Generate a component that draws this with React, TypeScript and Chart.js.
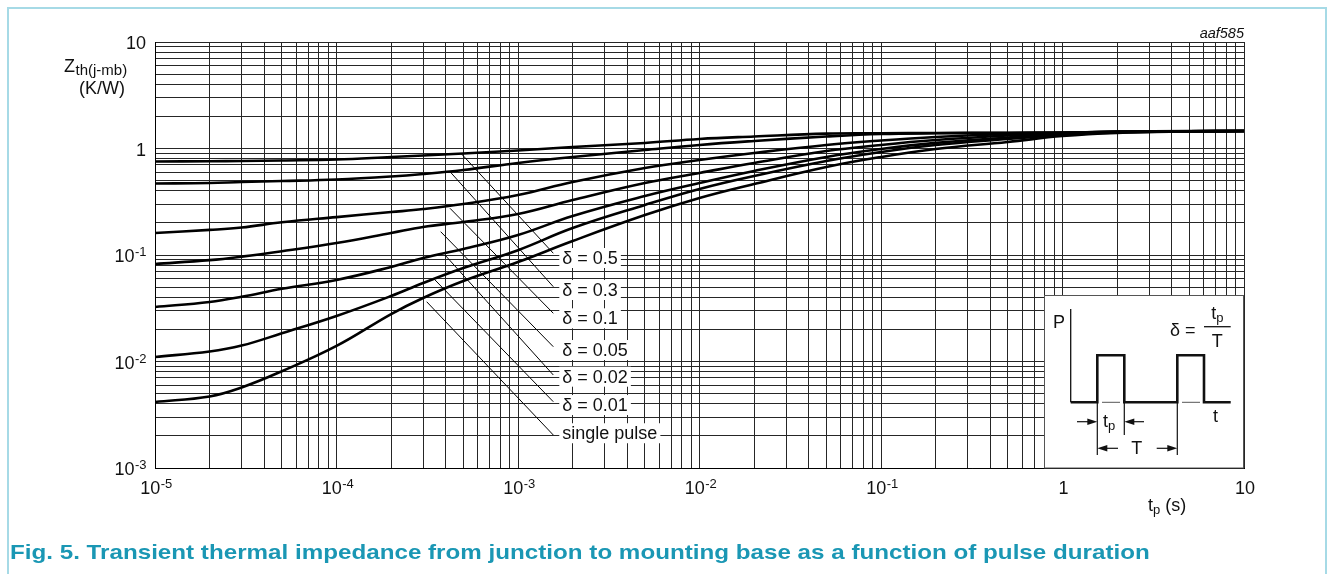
import React, { useEffect, useRef } from "react";
import { Chart, registerables } from "chart.js";

Chart.register(...registerables);

const FF = '"Liberation Sans", Arial, Helvetica, sans-serif';

// pulse duration tp (s)
const TP = [1e-5, 2e-5, 3e-5, 5e-5, 1e-4, 2e-4, 3e-4, 5e-4, 1e-3, 2e-3, 5e-3, 1e-2, 2e-2, 5e-2, 0.1, 0.2, 0.5, 1, 2, 5, 10];

// Zth(j-mb) (K/W) for each duty cycle
const Z_D050 = [0.755, 0.76, 0.763, 0.772, 0.788, 0.832, 0.86, 0.898, 0.958, 1.033, 1.127, 1.228, 1.296, 1.38, 1.39, 1.4, 1.405, 1.413, 1.43, 1.444, 1.46];
const Z_D030 = [0.469, 0.474, 0.485, 0.495, 0.512, 0.546, 0.576, 0.628, 0.731, 0.832, 0.968, 1.08, 1.176, 1.296, 1.369, 1.39, 1.4, 1.41, 1.43, 1.45, 1.46];
const Z_D010 = [0.161, 0.172, 0.181, 0.203, 0.227, 0.253, 0.27, 0.301, 0.366, 0.485, 0.656, 0.78, 0.907, 1.08, 1.189, 1.282, 1.369, 1.4, 1.44, 1.455, 1.46];
const Z_D005 = [0.0823, 0.0895, 0.0965, 0.1085, 0.1297, 0.161, 0.1833, 0.2042, 0.2427, 0.328, 0.474, 0.589, 0.731, 0.947, 1.08, 1.2, 1.325, 1.39, 1.44, 1.45, 1.46];
const Z_D002 = [0.0325, 0.0362, 0.0405, 0.0482, 0.0583, 0.0772, 0.0937, 0.1139, 0.1541, 0.2324, 0.358, 0.474, 0.615, 0.832, 0.989, 1.13, 1.268, 1.369, 1.43, 1.45, 1.46];
const Z_D001 = [0.01102, 0.0124, 0.0141, 0.0184, 0.02675, 0.0412, 0.0546, 0.0755, 0.111, 0.179, 0.295, 0.417, 0.552, 0.763, 0.927, 1.08, 1.228, 1.34, 1.413, 1.45, 1.46];
const Z_SINGLE = [0.00417, 0.0047, 0.0057, 0.0081, 0.014, 0.0279, 0.0395, 0.057, 0.0859, 0.1353, 0.237, 0.343, 0.464, 0.67, 0.832, 0.989, 1.151, 1.31, 1.4, 1.444, 1.46];

const SERIES = [Z_D050, Z_D030, Z_D010, Z_D005, Z_D002, Z_D001, Z_SINGLE];
const SERIES_LABELS = ["δ = 0.5", "δ = 0.3", "δ = 0.1", "δ = 0.05", "δ = 0.02", "δ = 0.01", "single pulse"];

// leader lines from curves to labels
const LEADER_START_T = [4.85e-4, 4.22e-4, 4.22e-4, 3.75e-4, 3.96e-4, 3.49e-4, 3.14e-4];
const LEADER_START_Z = [0.901, 0.606, 0.2746, 0.1655, 0.1, 0.0583, 0.0364];
const LEADER_END_T = 1.565e-3;
const LEADER_END_Z = [0.1038, 0.0504, 0.02836, 0.01377, 0.00747, 0.00419, 0.00204];
const LABEL_Z = [0.0937, 0.0469, 0.02544, 0.01282, 0.0072, 0.0039, 0.00212];

// tick labels
const X_TICK_VALUES = [1e-5, 1e-4, 1e-3, 1e-2, 1e-1, 1, 10];
const X_TICK_BASE = ["10", "10", "10", "10", "10", "1", "10"];
const X_TICK_SUP = ["-5", "-4", "-3", "-2", "-1", "", ""];
const Y_TICK_VALUES = [1e-3, 1e-2, 1e-1, 1, 10];
const Y_TICK_BASE = ["10", "10", "10", "1", "10"];
const Y_TICK_SUP = ["-3", "-2", "-1", "", ""];

const X_MIN_EXP = -5;
const X_MAX_EXP = 1;
const Y_MIN_EXP = -3;
const Y_MAX_EXP = 1;

function gridValues(e0: number, e1: number) {
  const out: { value: number }[] = [];
  for (let e = e0; e < e1; e++) {
    for (let m = 1; m <= 9; m++) {
      out.push({ value: Number((m * Math.pow(10, e)).toPrecision(6)) });
    }
  }
  out.push({ value: Math.pow(10, e1) });
  return out;
}

function drawPow(ctx: CanvasRenderingContext2D, base: string, sup: string, x: number, baseline: number, align: string) {
  ctx.font = `18px ${FF}`;
  const wb = ctx.measureText(base).width;
  ctx.font = `13px ${FF}`;
  const ws = sup ? ctx.measureText(sup).width : 0;
  const total = wb + ws;
  const x0 = align === "center" ? x - total / 2 : align === "right" ? x - total : x;
  ctx.textAlign = "left";
  ctx.textBaseline = "alphabetic";
  ctx.font = `18px ${FF}`;
  ctx.fillText(base, x0, baseline);
  if (sup) {
    ctx.font = `13px ${FF}`;
    ctx.fillText(sup, x0 + wb + 0.5, baseline - 6);
  }
}

function arrow(ctx: CanvasRenderingContext2D, x1: number, y: number, x2: number) {
  const dir = x2 > x1 ? 1 : -1;
  ctx.beginPath();
  ctx.moveTo(x1, y);
  ctx.lineTo(x2 - dir * 8, y);
  ctx.lineWidth = 1.2;
  ctx.stroke();
  ctx.beginPath();
  ctx.moveTo(x2, y);
  ctx.lineTo(x2 - dir * 10, y - 3.2);
  ctx.lineTo(x2 - dir * 10, y + 3.2);
  ctx.closePath();
  ctx.fill();
}

const overlayPlugin = {
  id: "overlay",
  beforeDatasetsDraw(chart: any) {
    const ctx: CanvasRenderingContext2D = chart.ctx;
    const xs = chart.scales.x;
    const ys = chart.scales.y;
    const ca = chart.chartArea;
    ctx.save();
    ctx.font = `18px ${FF}`;
    const lx = xs.getPixelForValue(LEADER_END_T) + 9;
    SERIES_LABELS.forEach((s, i) => {
      const yc = ys.getPixelForValue(LABEL_Z[i]);
      const w = ctx.measureText(s).width;
      ctx.fillStyle = "#fff";
      ctx.fillRect(lx - 3, yc - 10, w + 6, 20);
    });
    const ox = ca.right - 200;
    const oy = ca.bottom - 173;
    ctx.fillStyle = "#fff";
    ctx.fillRect(ox, oy, 200, 173);
    ctx.strokeStyle = "#555";
    ctx.lineWidth = 1;
    ctx.strokeRect(ox + 0.5, oy + 0.5, 199, 172.5);
    ctx.restore();
  },
  afterDraw(chart: any) {
    const ctx: CanvasRenderingContext2D = chart.ctx;
    const xs = chart.scales.x;
    const ys = chart.scales.y;
    const ca = chart.chartArea;
    ctx.save();
    ctx.fillStyle = "#111";
    ctx.font = `18px ${FF}`;
    ctx.textAlign = "left";
    ctx.textBaseline = "middle";
    const lx = xs.getPixelForValue(LEADER_END_T) + 9;
    SERIES_LABELS.forEach((s, i) => {
      const yc = ys.getPixelForValue(LABEL_Z[i]);
      ctx.fillText(s, lx, yc + 1);
    });
    Y_TICK_VALUES.forEach((v, i) => {
      const y = ys.getPixelForValue(v);
      drawPow(ctx, Y_TICK_BASE[i], Y_TICK_SUP[i], ca.left - 9, y + 7, "right");
    });
    X_TICK_VALUES.forEach((v, i) => {
      const x = xs.getPixelForValue(v);
      drawPow(ctx, X_TICK_BASE[i], X_TICK_SUP[i], x + 1, ca.bottom + 26, "center");
    });
    // y title
    ctx.textAlign = "left";
    ctx.textBaseline = "alphabetic";
    ctx.font = `18px ${FF}`;
    ctx.fillText("Z", 64, 72);
    const wz = ctx.measureText("Z").width;
    ctx.font = `15px ${FF}`;
    ctx.fillText("th(j-mb)", 64 + wz + 0.5, 75);
    ctx.font = `18px ${FF}`;
    ctx.fillText("(K/W)", 79, 93.5);
    // x title
    const tx = 1148;
    const tb = 510.5;
    ctx.font = `18px ${FF}`;
    ctx.fillText("t", tx, tb);
    const wt = ctx.measureText("t").width;
    ctx.font = `13px ${FF}`;
    ctx.fillText("p", tx + wt, tb + 3);
    const wp = ctx.measureText("p").width;
    ctx.font = `18px ${FF}`;
    ctx.fillText(" (s)", tx + wt + wp, tb);
    // figure id
    ctx.font = `italic 14.5px ${FF}`;
    ctx.textAlign = "right";
    ctx.fillText("aaf585", ca.right, 38);

    // inset pulse diagram
    const ox = ca.right - 200;
    const oy = ca.bottom - 173;
    ctx.strokeStyle = "#111";
    ctx.fillStyle = "#111";
    ctx.textAlign = "left";
    ctx.font = `18px ${FF}`;
    ctx.textBaseline = "middle";
    ctx.fillText("P", ox + 9, oy + 28);
    ctx.fillText("t", ox + 169, oy + 122);
    ctx.lineWidth = 1.3;
    ctx.beginPath();
    ctx.moveTo(ox + 26.7, oy + 14);
    ctx.lineTo(ox + 26.7, oy + 107.3);
    ctx.stroke();
    const base = oy + 107.3;
    const top = oy + 60.3;
    ctx.lineWidth = 2.6;
    ctx.lineJoin = "miter";
    ctx.beginPath();
    ctx.moveTo(ox + 26.7, base);
    ctx.lineTo(ox + 53.3, base);
    ctx.lineTo(ox + 53.3, top);
    ctx.lineTo(ox + 80.3, top);
    ctx.lineTo(ox + 80.3, base);
    ctx.lineTo(ox + 133.3, base);
    ctx.lineTo(ox + 133.3, top);
    ctx.lineTo(ox + 160, top);
    ctx.lineTo(ox + 160, base);
    ctx.lineTo(ox + 186.7, base);
    ctx.stroke();
    ctx.strokeStyle = "#777";
    ctx.lineWidth = 1.2;
    ctx.beginPath();
    ctx.moveTo(ox + 58, base);
    ctx.lineTo(ox + 76, base);
    ctx.moveTo(ox + 138, base);
    ctx.lineTo(ox + 156, base);
    ctx.stroke();
    ctx.strokeStyle = "#111";
    ctx.lineWidth = 1.2;
    ctx.beginPath();
    ctx.moveTo(ox + 53.3, base);
    ctx.lineTo(ox + 53.3, oy + 160);
    ctx.moveTo(ox + 80.3, base);
    ctx.lineTo(ox + 80.3, oy + 140);
    ctx.moveTo(ox + 133.3, base);
    ctx.lineTo(ox + 133.3, oy + 160);
    ctx.stroke();
    const ya = oy + 126.7;
    arrow(ctx, ox + 33, ya, ox + 53.3);
    arrow(ctx, ox + 100, ya, ox + 80.3);
    ctx.textBaseline = "alphabetic";
    ctx.font = `18px ${FF}`;
    ctx.fillText("t", ox + 59, ya + 5);
    const wti = ctx.measureText("t").width;
    ctx.font = `13px ${FF}`;
    ctx.fillText("p", ox + 59 + wti, ya + 8);
    const yb = oy + 153.3;
    arrow(ctx, ox + 74, yb, ox + 53.3);
    arrow(ctx, ox + 112.7, yb, ox + 133.3);
    ctx.font = `18px ${FF}`;
    ctx.textAlign = "center";
    ctx.textBaseline = "middle";
    ctx.fillText("T", ox + 92.7, yb + 1);
    ctx.textAlign = "left";
    ctx.fillText("δ =", ox + 126, oy + 36);
    ctx.lineWidth = 1.3;
    ctx.beginPath();
    ctx.moveTo(ox + 160, oy + 31.7);
    ctx.lineTo(ox + 186.7, oy + 31.7);
    ctx.stroke();
    ctx.textAlign = "center";
    ctx.fillText("T", ox + 173.3, oy + 47);
    ctx.textBaseline = "alphabetic";
    ctx.font = `18px ${FF}`;
    const wt2 = ctx.measureText("t").width;
    ctx.font = `13px ${FF}`;
    const wp2 = ctx.measureText("p").width;
    const fx = ox + 173.3 - (wt2 + wp2) / 2;
    ctx.textAlign = "left";
    ctx.font = `18px ${FF}`;
    ctx.fillText("t", fx, oy + 24);
    ctx.font = `13px ${FF}`;
    ctx.fillText("p", fx + wt2, oy + 27);
    ctx.restore();
  },
};

export default function App() {
  const ref = useRef<HTMLCanvasElement>(null);
  useEffect(() => {
    const curveSets = SERIES.map((arr, i) => ({
      label: SERIES_LABELS[i],
      data: TP.map((t, k) => ({ x: t, y: arr[k] })),
      borderColor: "#000",
      borderWidth: 2.6,
      pointRadius: 0,
      fill: false,
      tension: 0.4,
    }));
    const leaderSets = LEADER_START_T.map((t, i) => ({
      label: "leader " + i,
      data: [
        { x: t, y: LEADER_START_Z[i] },
        { x: LEADER_END_T, y: LEADER_END_Z[i] },
      ],
      borderColor: "#000",
      borderWidth: 1,
      pointRadius: 0,
      fill: false,
      tension: 0,
    }));
    const chart = new Chart(ref.current as HTMLCanvasElement, {
      type: "line",
      data: { datasets: [...curveSets, ...leaderSets] as any },
      options: {
        responsive: false,
        animation: false,
        devicePixelRatio: 1,
        layout: { padding: { left: 95, right: 86, top: 42, bottom: 66 } },
        plugins: { legend: { display: false }, tooltip: { enabled: false } },
        scales: {
          x: {
            type: "logarithmic",
            min: 1e-5,
            max: 10,
            afterBuildTicks: (s: any) => {
              s.ticks = gridValues(X_MIN_EXP, X_MAX_EXP);
            },
            afterFit: (s: any) => {
              s.height = 40;
            },
            ticks: { display: false },
            grid: { color: "#262626", lineWidth: 1, drawTicks: false },
            border: { display: true, color: "#000", width: 1 },
          },
          y: {
            type: "logarithmic",
            min: 1e-3,
            max: 10,
            afterBuildTicks: (s: any) => {
              s.ticks = gridValues(Y_MIN_EXP, Y_MAX_EXP);
            },
            afterFit: (s: any) => {
              s.width = 60;
            },
            ticks: { display: false },
            grid: { color: "#262626", lineWidth: 1, drawTicks: false },
            border: { display: true, color: "#000", width: 1 },
          },
        },
      } as any,
      plugins: [overlayPlugin],
    });
    return () => chart.destroy();
  }, []);
  return (
    <div style={{ position: "absolute", left: 0, top: 0, width: 1330, height: 574, background: "#fff", overflow: "hidden" }}>
      <div
        style={{
          position: "absolute",
          left: 7,
          top: 7,
          width: 1316,
          height: 620,
          border: "2px solid #a6dae6",
        }}
      />
      <canvas ref={ref} width={1330} height={574} style={{ position: "absolute", left: 0, top: 0 }} />
      <div
        style={{
          position: "absolute",
          left: 10,
          top: 540,
          font: `bold 20.5px ${FF}`,
          lineHeight: "24px",
          color: "#1a97b4",
          whiteSpace: "nowrap",
          transform: "scaleX(1.18)",
          transformOrigin: "0 0",
        }}
      >
        Fig. 5. Transient thermal impedance from junction to mounting base as a function of pulse duration
      </div>
    </div>
  );
}
